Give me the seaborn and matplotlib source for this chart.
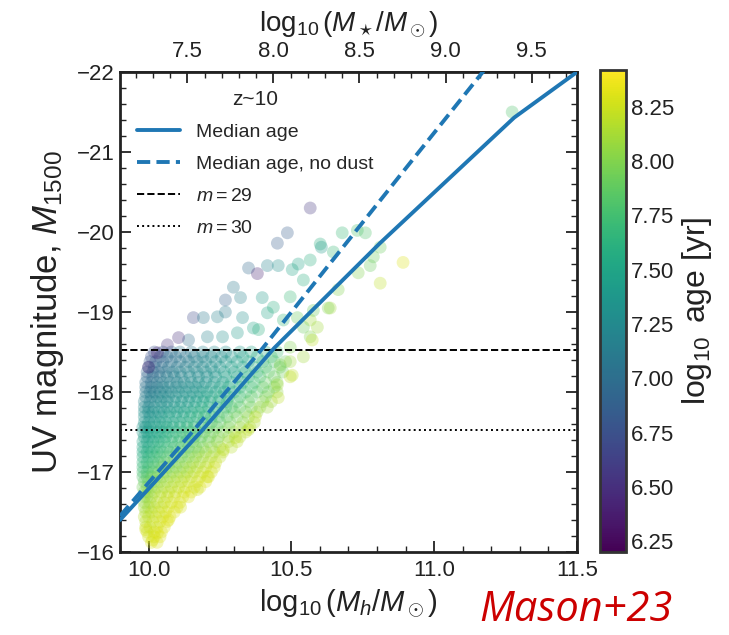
import numpy as np
import pandas as pd
import matplotlib
matplotlib.use("Agg")
import matplotlib.pyplot as plt
from matplotlib.ticker import MultipleLocator
import seaborn as sns

# ---------------------------------------------------------------------------
# Simulated galaxies at z~10: halo mass, UV magnitude and stellar age
# ---------------------------------------------------------------------------
# bright, sparse galaxies
sparse_log_mh = [10.566, 10.486, 10.451, 10.350, 10.381, 10.416, 10.454, 10.503, 10.524,
                 10.566, 10.601, 10.605, 10.647, 10.678, 10.731, 10.759, 10.787, 10.811,
                 10.734, 10.811, 10.891, 10.664, 10.636, 10.566, 10.542, 10.297, 10.269,
                 10.322, 10.398, 10.157, 10.192, 10.241, 10.269, 10.329, 10.416, 10.437,
                 10.496, 10.472, 10.367, 10.385, 10.311, 10.259, 10.206, 10.140, 10.105,
                 10.066, 10.031, 10.000, 10.629, 10.577, 10.521, 10.566, 10.591, 10.496,
                 10.496, 10.503, 10.461, 10.573, 10.542, 10.496, 10.451, 10.454, 10.416,
                 10.374, 10.350, 10.304, 10.262, 10.206, 10.171, 10.112, 10.070, 10.031,
                 10.014, 9.990, 11.273, 10.776, 10.542]
sparse_muv = [-20.30, -19.99, -19.86, -19.55, -19.48, -19.58, -19.58, -19.53, -19.60,
              -19.65, -19.85, -19.81, -19.75, -19.99, -20.02, -19.99, -19.69, -19.81,
              -19.49, -19.36, -19.62, -19.28, -19.05, -18.90, -18.81, -19.31, -19.15,
              -19.18, -19.18, -18.93, -18.93, -18.94, -19.00, -18.93, -18.99, -19.06,
              -19.19, -18.90, -18.80, -18.78, -18.74, -18.69, -18.69, -18.65, -18.68,
              -18.59, -18.49, -18.31, -19.05, -19.02, -18.93, -18.69, -18.81, -18.56,
              -18.38, -18.21, -18.34, -18.65, -18.44, -18.19, -18.09, -17.93, -17.81,
              -17.69, -17.53, -17.43, -17.28, -16.94, -16.78, -16.56, -16.40, -16.24,
              -16.15, -16.28, -21.50, -19.58, -19.40]
sparse_log_age = [6.55, 6.85, 6.85, 6.95, 6.40, 7.20, 7.30, 7.50, 7.50,
                  7.60, 7.60, 7.40, 7.70, 7.70, 7.80, 7.80, 7.90, 7.90,
                  8.00, 8.20, 8.30, 8.00, 8.10, 8.10, 7.90, 7.10, 6.90,
                  7.20, 7.40, 6.70, 7.10, 7.20, 7.10, 7.30, 7.50, 7.60,
                  7.70, 7.70, 7.50, 7.60, 7.40, 7.30, 7.20, 7.00, 6.50,
                  6.50, 6.40, 6.40, 8.00, 7.90, 7.90, 8.00, 8.10, 8.00,
                  8.10, 8.20, 8.00, 8.20, 8.10, 8.20, 8.10, 8.20, 8.10,
                  8.20, 8.20, 8.20, 8.20, 8.25, 8.25, 8.28, 8.30, 8.30,
                  8.30, 8.28, 7.80, 7.90, 7.60]

# faint, crowded galaxies: magnitude -> (log halo masses, log ages)
crowd_rows = {
    -16.12: ([10.010, 10.030],
             [8.28, 8.30]),
    -16.19: ([10.000, 10.020, 10.040],
             [8.27, 8.28, 8.30]),
    -16.25: ([9.995, 10.020, 10.045],
             [8.25, 8.27, 8.30]),
    -16.31: ([9.990, 10.005, 10.030, 10.055],
             [8.22, 8.25, 8.27, 8.30]),
    -16.38: ([9.990, 10.015, 10.040, 10.065],
             [8.20, 8.23, 8.26, 8.30]),
    -16.44: ([9.985, 10.000, 10.025, 10.050, 10.075],
             [8.18, 8.22, 8.25, 8.28, 8.30]),
    -16.50: ([9.990, 10.010, 10.035, 10.060, 10.090],
             [8.15, 8.20, 8.24, 8.27, 8.30]),
    -16.56: ([9.985, 10.000, 10.020, 10.045, 10.070, 10.100],
             [8.10, 8.16, 8.20, 8.25, 8.28, 8.30]),
    -16.62: ([9.985, 10.005, 10.030, 10.055, 10.080, 10.110],
             [8.05, 8.12, 8.18, 8.22, 8.27, 8.30]),
    -16.69: ([9.985, 9.995, 10.010, 10.040, 10.065, 10.090, 10.120, 10.140],
             [8.02, 8.08, 8.14, 8.20, 8.23, 8.26, 8.28, 8.30]),
    -16.75: ([9.985, 10.000, 10.020, 10.045, 10.070, 10.095, 10.125, 10.150],
             [8.00, 8.05, 8.12, 8.18, 8.22, 8.25, 8.28, 8.30]),
    -16.81: ([9.980, 9.995, 10.010, 10.030, 10.055, 10.080, 10.105, 10.130, 10.160, 10.180],
             [7.95, 8.00, 8.05, 8.10, 8.15, 8.18, 8.22, 8.25, 8.28, 8.30]),
    -16.88: ([9.985, 10.000, 10.020, 10.040, 10.065, 10.090, 10.115, 10.140, 10.170, 10.200],
             [7.90, 7.95, 8.00, 8.08, 8.12, 8.17, 8.20, 8.24, 8.27, 8.30]),
    -16.94: ([9.980, 9.995, 10.010, 10.030, 10.050, 10.075, 10.100, 10.125, 10.150, 10.180,
              10.210],
             [7.80, 7.88, 7.95, 8.00, 8.05, 8.10, 8.15, 8.18, 8.22, 8.26, 8.30]),
    -17.00: ([9.980, 9.995, 10.015, 10.035, 10.060, 10.085, 10.110, 10.135, 10.160, 10.190,
              10.220],
             [7.75, 7.80, 7.90, 7.95, 8.00, 8.05, 8.10, 8.15, 8.20, 8.25, 8.28]),
    -17.06: ([9.980, 10.000, 10.020, 10.045, 10.070, 10.095, 10.120, 10.145, 10.170, 10.200,
              10.230],
             [7.70, 7.75, 7.82, 7.90, 7.95, 8.00, 8.05, 8.12, 8.17, 8.22, 8.25]),
    -17.12: ([9.980, 9.995, 10.015, 10.035, 10.055, 10.080, 10.105, 10.130, 10.155, 10.180,
              10.210, 10.235],
             [7.65, 7.70, 7.75, 7.80, 7.90, 7.95, 8.00, 8.05, 8.10, 8.15, 8.20, 8.25]),
    -17.19: ([9.980, 10.000, 10.020, 10.040, 10.065, 10.090, 10.115, 10.140, 10.165, 10.190,
              10.220, 10.250],
             [7.60, 7.65, 7.70, 7.75, 7.80, 7.88, 7.92, 7.98, 8.05, 8.10, 8.15, 8.20]),
    -17.25: ([9.980, 9.995, 10.010, 10.030, 10.050, 10.075, 10.100, 10.125, 10.150, 10.175,
              10.200, 10.230, 10.260],
             [7.55, 7.60, 7.65, 7.70, 7.75, 7.80, 7.85, 7.90, 8.00, 8.05, 8.10, 8.15, 8.20]),
    -17.31: ([9.980, 10.000, 10.020, 10.040, 10.065, 10.090, 10.115, 10.140, 10.165, 10.190,
              10.220, 10.250, 10.290],
             [7.52, 7.55, 7.60, 7.65, 7.70, 7.75, 7.80, 7.85, 7.92, 7.98, 8.05, 8.10, 8.18]),
    -17.38: ([9.980, 9.995, 10.015, 10.035, 10.055, 10.080, 10.105, 10.130, 10.155, 10.180,
              10.210, 10.240, 10.280, 10.310],
             [7.50, 7.50, 7.55, 7.60, 7.65, 7.70, 7.75, 7.80, 7.90, 7.95, 8.00, 8.05, 8.15,
              8.20]),
    -17.44: ([9.985, 10.000, 10.020, 10.040, 10.060, 10.085, 10.110, 10.135, 10.160, 10.185,
              10.215, 10.245, 10.280, 10.320],
             [7.45, 7.48, 7.52, 7.55, 7.60, 7.65, 7.70, 7.75, 7.80, 7.85, 7.92, 8.00, 8.08,
              8.18]),
    -17.50: ([9.980, 9.995, 10.010, 10.030, 10.050, 10.070, 10.095, 10.120, 10.145, 10.170,
              10.195, 10.225, 10.260, 10.300, 10.340],
             [7.40, 7.45, 7.50, 7.50, 7.55, 7.60, 7.65, 7.70, 7.75, 7.80, 7.90, 7.95, 8.00,
              8.10, 8.20]),
    -17.56: ([9.980, 9.990, 10.005, 10.025, 10.045, 10.065, 10.085, 10.110, 10.135, 10.160,
              10.185, 10.210, 10.240, 10.280, 10.320, 10.355],
             [7.38, 7.40, 7.45, 7.48, 7.50, 7.55, 7.58, 7.62, 7.68, 7.72, 7.78, 7.85, 7.90,
              8.00, 8.10, 8.18]),
    -17.62: ([9.985, 10.000, 10.020, 10.040, 10.060, 10.085, 10.110, 10.135, 10.160, 10.190,
              10.220, 10.250, 10.285, 10.330, 10.370],
             [7.35, 7.40, 7.40, 7.45, 7.50, 7.50, 7.55, 7.60, 7.65, 7.70, 7.80, 7.85, 7.95,
              8.05, 8.15]),
    -17.69: ([9.985, 10.005, 10.025, 10.045, 10.070, 10.095, 10.120, 10.145, 10.170, 10.195,
              10.220, 10.245, 10.275, 10.310, 10.350],
             [7.32, 7.35, 7.38, 7.42, 7.45, 7.50, 7.52, 7.55, 7.60, 7.65, 7.70, 7.78, 7.85,
              7.95, 8.05]),
    -17.75: ([9.985, 10.000, 10.015, 10.035, 10.055, 10.075, 10.100, 10.125, 10.150, 10.175,
              10.200, 10.230, 10.260, 10.300, 10.340, 10.380],
             [7.30, 7.30, 7.35, 7.35, 7.40, 7.45, 7.45, 7.50, 7.55, 7.60, 7.65, 7.70, 7.80,
              7.90, 8.00, 8.10]),
    -17.81: ([9.985, 10.000, 10.020, 10.045, 10.065, 10.090, 10.110, 10.135, 10.160, 10.185,
              10.210, 10.240, 10.270, 10.290, 10.320, 10.360, 10.390],
             [7.25, 7.27, 7.30, 7.33, 7.36, 7.40, 7.42, 7.45, 7.50, 7.55, 7.60, 7.65, 7.72,
              7.78, 7.85, 7.95, 8.05]),
    -17.88: ([9.985, 10.005, 10.025, 10.045, 10.065, 10.090, 10.115, 10.140, 10.165, 10.190,
              10.215, 10.245, 10.275, 10.310, 10.350, 10.400, 10.430],
             [7.20, 7.20, 7.25, 7.30, 7.30, 7.35, 7.40, 7.40, 7.45, 7.50, 7.55, 7.60, 7.70,
              7.80, 7.90, 8.00, 8.10]),
    -17.94: ([9.990, 10.010, 10.030, 10.050, 10.070, 10.095, 10.120, 10.145, 10.170, 10.195,
              10.220, 10.250, 10.280, 10.320, 10.360, 10.410],
             [7.15, 7.18, 7.22, 7.25, 7.28, 7.32, 7.35, 7.38, 7.42, 7.46, 7.50, 7.58, 7.65,
              7.75, 7.85, 8.00]),
    -18.00: ([9.990, 10.005, 10.020, 10.040, 10.060, 10.080, 10.105, 10.130, 10.155, 10.180,
              10.205, 10.235, 10.265, 10.300, 10.340, 10.380, 10.420, 10.450],
             [7.10, 7.15, 7.15, 7.20, 7.25, 7.25, 7.30, 7.35, 7.35, 7.40, 7.45, 7.50, 7.55,
              7.65, 7.75, 7.85, 7.95, 8.05]),
    -18.06: ([9.990, 10.010, 10.030, 10.050, 10.070, 10.095, 10.115, 10.140, 10.165, 10.190,
              10.220, 10.250, 10.280, 10.320, 10.360, 10.400, 10.440],
             [7.05, 7.10, 7.12, 7.18, 7.20, 7.24, 7.28, 7.30, 7.33, 7.38, 7.42, 7.48, 7.55,
              7.62, 7.72, 7.85, 7.95]),
    -18.12: ([9.990, 10.010, 10.030, 10.050, 10.075, 10.100, 10.125, 10.150, 10.175, 10.200,
              10.230, 10.260, 10.290, 10.330, 10.370, 10.410, 10.450],
             [7.00, 7.05, 7.10, 7.15, 7.20, 7.20, 7.25, 7.30, 7.30, 7.35, 7.40, 7.45, 7.55,
              7.65, 7.75, 7.90, 8.00]),
    -18.19: ([9.995, 10.015, 10.040, 10.065, 10.090, 10.115, 10.145, 10.175, 10.205, 10.235,
              10.270, 10.310, 10.350, 10.390, 10.440],
             [6.95, 7.00, 7.05, 7.12, 7.16, 7.20, 7.24, 7.28, 7.30, 7.36, 7.42, 7.50, 7.62,
              7.75, 7.90]),
    -18.25: ([9.995, 10.015, 10.035, 10.060, 10.085, 10.110, 10.140, 10.170, 10.200, 10.230,
              10.265, 10.300, 10.340, 10.380, 10.420, 10.470],
             [6.90, 6.95, 7.00, 7.10, 7.15, 7.20, 7.25, 7.25, 7.30, 7.35, 7.45, 7.50, 7.60,
              7.70, 7.85, 7.95]),
    -18.31: ([10.000, 10.020, 10.045, 10.070, 10.100, 10.130, 10.160, 10.190, 10.220, 10.250,
              10.290, 10.330, 10.370, 10.410, 10.460],
             [6.85, 6.90, 7.00, 7.05, 7.12, 7.16, 7.22, 7.25, 7.30, 7.35, 7.42, 7.50, 7.62,
              7.75, 7.90]),
    -18.38: ([10.005, 10.025, 10.050, 10.080, 10.110, 10.140, 10.170, 10.200, 10.235, 10.270,
              10.310, 10.350, 10.400, 10.440, 10.480],
             [6.80, 6.90, 7.00, 7.05, 7.10, 7.15, 7.20, 7.25, 7.30, 7.40, 7.45, 7.55, 7.70,
              7.80, 7.90]),
    -18.44: ([10.010, 10.040, 10.065, 10.095, 10.130, 10.160, 10.190, 10.220, 10.255, 10.290,
              10.330, 10.380, 10.430],
             [6.75, 6.85, 6.95, 7.02, 7.08, 7.15, 7.20, 7.25, 7.30, 7.38, 7.48, 7.60, 7.75]),
    -18.50: ([10.020, 10.050, 10.080, 10.110, 10.150, 10.190, 10.230, 10.270, 10.320, 10.360,
              10.410, 10.450],
             [6.75, 6.90, 7.00, 7.05, 7.10, 7.20, 7.25, 7.30, 7.40, 7.50, 7.60, 7.75]),
}

# median relations
median_log_mh = [9.90, 10.19, 10.44, 10.81, 11.28, 11.50]
median_muv = [-16.40, -17.53, -18.55, -19.86, -21.43, -22.00]
nodust_log_mh = [9.90, 10.16, 10.40, 10.87, 11.17, 11.30]
nodust_muv = [-16.45, -17.53, -18.55, -20.66, -22.00, -22.58]

# apparent-magnitude limits
mag_limit_29 = -18.53
mag_limit_30 = -17.53

age_ticks = [6.25, 6.50, 6.75, 7.00, 7.25, 7.50, 7.75, 8.00, 8.25]
age_range = (6.20, 8.42)

# ---------------------------------------------------------------------------
rows = []
for mag, (mh_list, age_list) in crowd_rows.items():
    for mh, age in zip(mh_list, age_list):
        rows.append((mh, mag, age))
for mh, mag, age in zip(sparse_log_mh, sparse_muv, sparse_log_age):
    rows.append((mh, mag, age))
gal = pd.DataFrame(rows, columns=["log_mh", "muv", "log_age"])

sns.set_theme(style="ticks")
plt.rcParams["font.family"] = ["Liberation Sans", "DejaVu Sans"]
plt.rcParams["mathtext.fontset"] = "custom"
plt.rcParams["mathtext.rm"] = "Liberation Sans"
plt.rcParams["mathtext.it"] = "Liberation Sans:italic"

ink = "#222222"
fig = plt.figure(figsize=(7.29, 6.35), dpi=100)
ax = fig.add_axes([0.1646, 0.1307, 0.6269, 0.7559])
cax = fig.add_axes([0.823, 0.1307, 0.0357, 0.759])

cmap = plt.get_cmap("viridis")
norm = plt.Normalize(*age_range)

sns.scatterplot(data=gal, x="log_mh", y="muv", hue="log_age", palette=cmap,
                hue_norm=norm, s=85, alpha=0.3, linewidth=0, legend=False, ax=ax,
                zorder=1)

line_col = "#1f77b4"
sns.lineplot(x=median_log_mh, y=median_muv, ax=ax, color=line_col, lw=2.8,
             estimator=None, sort=False, label="Median age", zorder=3)
sns.lineplot(x=nodust_log_mh, y=nodust_muv, ax=ax, color=line_col, lw=2.8,
             estimator=None, sort=False, label="Median age, no dust", zorder=3)
ax.lines[-1].set_dashes([3.4, 1.6])
ax.axhline(mag_limit_29, color="black", ls="--", lw=1.4, label=r"$m=29$", zorder=2)
ax.axhline(mag_limit_30, color="black", ls=":", lw=1.4, label=r"$m=30$", zorder=2)

ax.set_xlim(9.9, 11.5)
ax.set_ylim(-16, -22)
ax.xaxis.set_major_locator(MultipleLocator(0.5))
ax.xaxis.set_minor_locator(MultipleLocator(0.1))
ax.yaxis.set_major_locator(MultipleLocator(1))
ax.yaxis.set_minor_locator(MultipleLocator(0.2))
ax.tick_params(which="both", direction="in", right=True, top=False, labelsize=16,
               colors=ink, labelcolor=ink)
ax.tick_params(axis="x", pad=6)
ax.tick_params(which="major", length=8, width=1.3)
ax.tick_params(which="minor", length=4, width=1.0)
for sp in ax.spines.values():
    sp.set_linewidth(2.0)
    sp.set_color(ink)
ax.set_xlabel(r"$\log_{10}(M_h/M_\odot)$", fontsize=21, color=ink, labelpad=4)
ax.set_ylabel(r"UV magnitude, $M_{1500}$", fontsize=25, color=ink, labelpad=8)

# stellar mass along the top edge
def mh_to_mstar(x):
    return 7.5 + 1.66 * (np.asarray(x) - 10.136)

def mstar_to_mh(y):
    return 10.136 + (np.asarray(y) - 7.5) / 1.66

top = ax.secondary_xaxis("top", functions=(mh_to_mstar, mstar_to_mh))
top.xaxis.set_major_locator(MultipleLocator(0.5))
top.xaxis.set_minor_locator(MultipleLocator(0.1))
top.tick_params(which="both", direction="in", labelsize=16, colors=ink,
                labelcolor=ink, pad=7)
top.tick_params(which="major", length=8, width=1.3)
top.tick_params(which="minor", length=4, width=1.0)
top.set_xlabel(r"$\log_{10}(M_\star/M_\odot)$", fontsize=20, color=ink, labelpad=7)

leg = ax.legend(loc="upper left", frameon=False, fontsize=14, title="z~10",
                title_fontsize=15, handlelength=2.2, labelspacing=0.75,
                borderaxespad=0.5)

sm = plt.cm.ScalarMappable(cmap=cmap, norm=norm)
cb = fig.colorbar(sm, cax=cax)
cb.set_ticks(age_ticks)
cb.ax.yaxis.set_minor_locator(MultipleLocator(0.05))
cb.ax.tick_params(which="both", direction="in", labelsize=16, colors=ink,
                  labelcolor=ink)
cb.ax.tick_params(which="major", length=7, width=1.2)
cb.ax.tick_params(which="minor", length=3.5, width=0.9)
cb.outline.set_linewidth(2.0)
cb.outline.set_edgecolor("#333333")
cb.set_label(r"$\log_{10}$ age [yr]", fontsize=23, color=ink)

fig.text(0.922, 0.022, "Mason+23", color="#cc0000", fontsize=30, style="italic",
         family=["Open Sans", "DejaVu Sans"], ha="right", va="baseline")

fig.savefig("out.png", dpi=100)
